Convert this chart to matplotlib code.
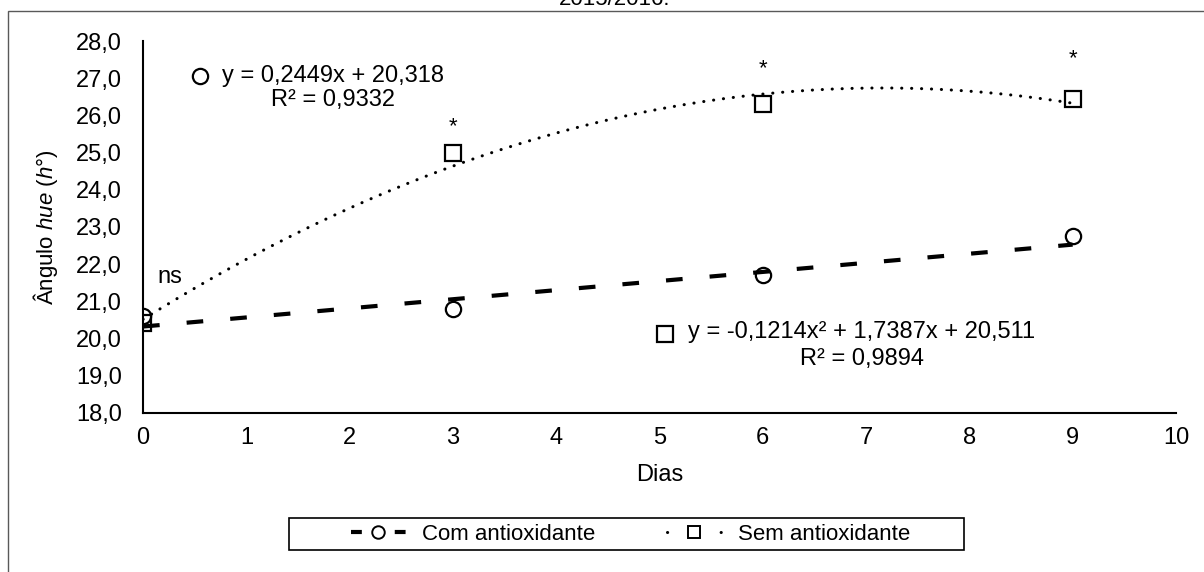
import numpy as np
import matplotlib
matplotlib.use('Agg')
import matplotlib.pyplot as plt
from matplotlib.lines import Line2D
from matplotlib.patches import Rectangle

plt.rcParams['font.family'] = ['Liberation Sans', 'DejaVu Sans']
plt.rcParams['mathtext.fontset'] = 'custom'
plt.rcParams['mathtext.rm'] = 'Liberation Sans'
plt.rcParams['mathtext.it'] = 'Liberation Sans:italic'

# dados: ângulo hue ao longo dos dias de armazenamento
dias = [0, 3, 6, 9]
com_antiox = [20.6, 20.8, 21.7, 22.75]
sem_antiox = [20.4, 25.0, 26.3, 26.45]

# coeficientes das linhas de tendência
lin_a, lin_b, lin_r2 = 0.2449, 20.318, 0.9332
quad_a, quad_b, quad_c, quad_r2 = -0.1214, 1.7387, 20.511, 0.9894

# significância por dia
sig_dias = [0, 3, 6, 9]
sig_txt = ['ns', '*', '*', '*']

yticks = np.arange(18, 28.1, 1)
xticks = np.arange(0, 11, 1)

fs = 17

fig = plt.figure(figsize=(12.04, 5.72), dpi=100)
ax = fig.add_axes([0.1188, 0.2785, 0.8579, 0.6498])

# moldura externa do gráfico
fig.patches.append(Rectangle((8 / 1204, -0.05), 1.2, 1.05 - 11 / 572,
                             transform=fig.transFigure, fill=False,
                             edgecolor='#595959', lw=1.0))
fig.text(615 / 1204, 1 - 5 / 572, '2015/2016.', ha='center', va='baseline', fontsize=16)

ax.plot(dias, com_antiox, linestyle='none', marker='o', ms=11, mfc='none',
        mec='black', mew=1.6, zorder=3)
ax.plot(dias, sem_antiox, linestyle='none', marker='s', ms=11, mfc='none',
        mec='black', mew=1.6, zorder=3)

xs = np.linspace(0, 9, 200)
ax.plot(xs, lin_a * xs + lin_b, color='black', lw=3,
        linestyle=(0, (4.0, 6.5)), solid_capstyle='round', zorder=4)
ax.plot(xs, quad_a * xs ** 2 + quad_b * xs + quad_c, color='black', lw=2.2,
        linestyle=(0, (0.05, 3.2)), dash_capstyle='round', zorder=4)

# equações
ax.plot([0.55], [27.06], linestyle='none', marker='o', ms=11, mfc='none', mec='black', mew=1.6)
ax.text(1.84, 27.06, 'y = 0,2449x + 20,318', ha='center', va='center', fontsize=fs)
ax.text(1.84, 26.41, 'R² = 0,9332', ha='center', va='center', fontsize=fs)
ax.plot([5.05], [20.12], linestyle='none', marker='s', ms=11, mfc='none', mec='black', mew=1.6)
ax.text(6.96, 20.18, 'y = -0,1214x² + 1,7387x + 20,511', ha='center', va='center', fontsize=fs)
ax.text(6.96, 19.44, 'R² = 0,9894', ha='center', va='center', fontsize=fs)

# marcações de significância
sig_y = [21.49, 25.55, 27.1, 27.37]
for xd, yd, t in zip(sig_dias, sig_y, sig_txt):
    if t == 'ns':
        ax.text(xd + 0.14, yd, t, ha='left', va='baseline', fontsize=fs)
    else:
        ax.text(xd, yd, t, ha='center', va='baseline', fontsize=16)

ax.set_xlim(0, 10)
ax.set_ylim(18, 28)
ax.set_xticks(xticks)
ax.set_yticks(yticks)
ax.set_yticklabels([f'{v:.1f}'.replace('.', ',') for v in yticks])
ax.tick_params(length=0, labelsize=fs)
ax.tick_params(axis='y', pad=15)
ax.tick_params(axis='x', pad=10)
for s in ['top', 'right']:
    ax.spines[s].set_visible(False)
for s in ['left', 'bottom']:
    ax.spines[s].set_linewidth(1.5)

ax.set_xlabel('Dias', fontsize=fs, labelpad=11)
ax.set_ylabel(r'Ângulo $\it{hue}$ ($\it{h}$°)', fontsize=16, labelpad=12)

# legenda: caixa desenhada à parte, mais larga que o conteúdo
handles = [
    Line2D([], [], color='black', lw=3, linestyle=(0, (2.6, 7.9)), marker='o',
           ms=9, mfc='white', mec='black', mew=1.4),
    Line2D([], [], color='black', lw=2.2, linestyle=(0, (0.05, 17.5)), dash_capstyle='round',
           marker='s', ms=8.5, mfc='white', mec='black', mew=1.4),
]
fig.legend(handles, ['Com antioxidante', 'Sem antioxidante'], loc='center',
           bbox_to_anchor=(630.5 / 1204, 1 - 534 / 572), ncol=2, fontsize=16,
           frameon=False, handlelength=2.45, columnspacing=3.2, handletextpad=0.75)
fig.patches.append(Rectangle((289 / 1204, 1 - 550 / 572), 675 / 1204, 32 / 572,
                             transform=fig.transFigure, fill=False,
                             edgecolor='black', lw=1.2))

fig.savefig('out.png', dpi=100)
